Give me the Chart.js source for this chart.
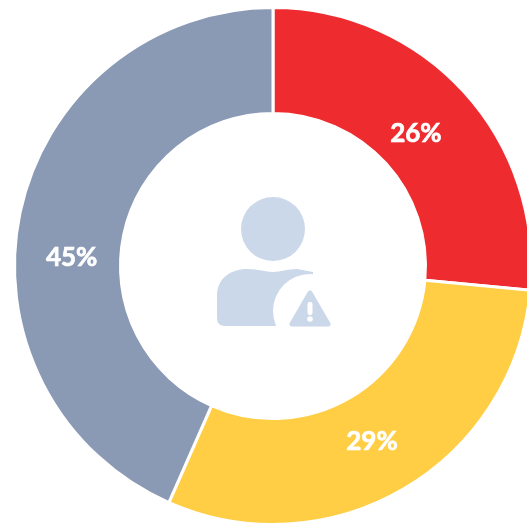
<!DOCTYPE html>
<html>
<head>
<meta charset="utf-8">
<style>
  html, body { margin: 0; padding: 0; background: #fff; overflow: hidden; width: 527px; height: 524px; }
  canvas { position: absolute; left: 0; top: 1px; }
</style>
<script src="https://cdn.jsdelivr.net/npm/chart.js@4"></script>
</head>
<body>
<canvas id="chart" width="546" height="530"></canvas>
<script>
const categories = ['Red', 'Yellow', 'Grey'];
// slice sizes, printed labels differ slightly
const sliceValues = [26.5, 30.1, 43.4];
const sliceLabels = ['26%', '29%', '45%'];
const sliceColors = ['#EE2C2F', '#FFCE45', '#8A99B4'];

// draws the percentage text on each slice
const sliceLabelPlugin = {
  id: 'sliceLabels',
  afterDatasetsDraw(chart) {
    const { ctx } = chart;
    const shift = [-0.4, 1, -9.4]; // degrees, labels are not quite mid-slice
    const inset = [11, 4, 4];
    chart.getDatasetMeta(0).data.forEach((arc, i) => {
      const mid = (arc.startAngle + arc.endAngle) / 2 + (shift[i] * Math.PI) / 180;
      const r = (arc.innerRadius + arc.outerRadius) / 2 - inset[i];
      const x = arc.x + Math.cos(mid) * r;
      const y = arc.y + Math.sin(mid) * r;
      ctx.save();
      ctx.fillStyle = '#fff';
      ctx.strokeStyle = '#fff';
      ctx.lineWidth = 0.7; // reference text is heavier than Lato bold
      ctx.font = "bold 26px Lato, sans-serif";
      ctx.textAlign = 'center';
      ctx.textBaseline = 'middle';
      ctx.fillText(sliceLabels[i], x, y);
      ctx.strokeText(sliceLabels[i], x, y);
      ctx.restore();
    });
  },
};

// user + warning icon in the hole
const centerIconPlugin = {
  id: 'centerIcon',
  afterDraw(chart) {
    const { ctx } = chart;
    const arc = chart.getDatasetMeta(0).data[0];
    const cx = arc.x;
    const cy = arc.y;
    ctx.save();
    ctx.translate(cx, cy);
    ctx.fillStyle = '#CBD8EA';

    ctx.beginPath();
    ctx.arc(0, -37, 32, 0, Math.PI * 2);
    ctx.fill();

    // body
    ctx.beginPath();
    ctx.moveTo(-56, 48);
    ctx.lineTo(-56, 30);
    ctx.bezierCurveTo(-56, 12, -42, 3, -26, 3);
    ctx.bezierCurveTo(-14, 3, -8, 6, 0, 6);
    ctx.bezierCurveTo(8, 6, 14, 3, 24, 3);
    ctx.lineTo(40, 6);
    ctx.lineTo(40, 60);
    ctx.lineTo(-48, 60);
    ctx.quadraticCurveTo(-56, 60, -56, 52);
    ctx.closePath();
    ctx.fill();

    // white cut round the triangle
    ctx.fillStyle = '#fff';
    ctx.beginPath();
    ctx.arc(37, 45, 37, 0, Math.PI * 2);
    ctx.fill();
    ctx.fillRect(0, 60, 80, 10);

    // warning triangle
    ctx.fillStyle = '#CBD8EA';
    ctx.strokeStyle = '#CBD8EA';
    ctx.lineWidth = 5;
    ctx.lineJoin = 'round';
    ctx.beginPath();
    ctx.moveTo(37, 27);
    ctx.lineTo(55, 58);
    ctx.lineTo(19, 58);
    ctx.closePath();
    ctx.fill();
    ctx.stroke();

    ctx.fillStyle = '#fff';
    ctx.beginPath();
    ctx.roundRect(34.5, 36, 5, 13, 2);
    ctx.fill();
    ctx.beginPath();
    ctx.arc(37, 53, 2.8, 0, Math.PI * 2);
    ctx.fill();
    ctx.restore();
  },
};

new Chart(document.getElementById('chart').getContext('2d'), {
  type: 'doughnut',
  data: {
    labels: categories,
    datasets: [
      {
        data: sliceValues,
        backgroundColor: sliceColors,
        borderColor: '#fff',
        borderWidth: 3,
      },
    ],
  },
  options: {
    responsive: false,
    animation: false,
    cutout: '59%',
    layout: { padding: { top: 5, bottom: 5 } },
    plugins: {
      legend: { display: false },
      tooltip: { enabled: false },
    },
  },
  plugins: [sliceLabelPlugin, centerIconPlugin],
});
</script>
</body>
</html>
